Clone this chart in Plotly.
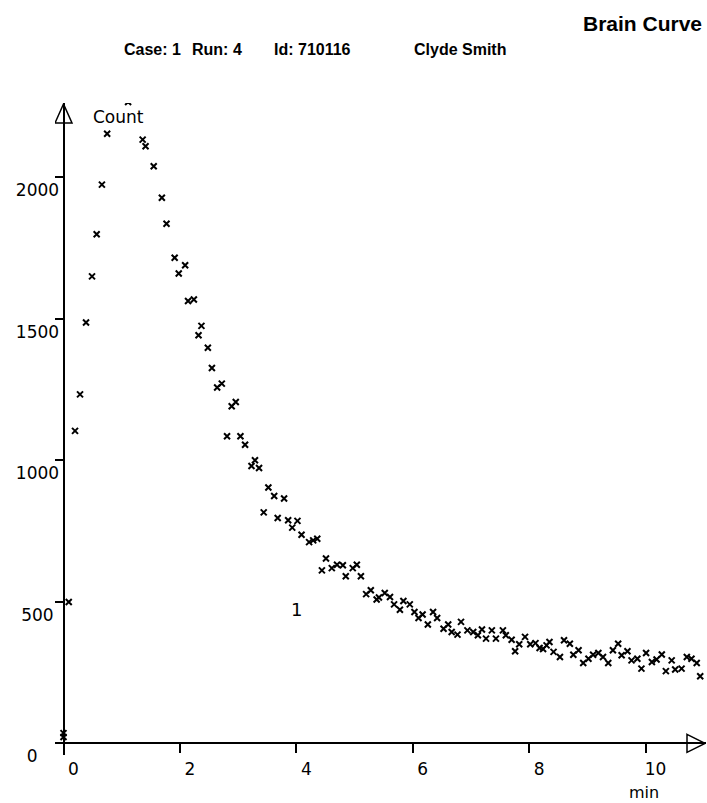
import plotly.graph_objects as go

# ---- data (time in min, counts) ----
time_min = [0.0, 0.0, 0.09, 0.198, 0.284, 0.387, 0.49, 0.57, 0.66, 0.75, 1.11,
            1.36, 1.41, 1.55, 1.69, 1.77, 1.91, 1.98, 2.09, 2.14, 2.24, 2.32, 2.37,
            2.48, 2.55, 2.64, 2.72, 2.81, 2.89, 2.96, 3.04, 3.12, 3.23, 3.29, 3.36,
            3.44, 3.52, 3.62, 3.68, 3.79, 3.86, 3.93, 4.02, 4.09, 4.22, 4.29, 4.36,
            4.44, 4.51, 4.61, 4.70, 4.80, 4.85, 4.97, 5.04, 5.11, 5.20, 5.28, 5.38,
            5.42, 5.52, 5.61, 5.68, 5.78, 5.84, 5.95, 6.03, 6.10, 6.17, 6.26, 6.35,
            6.42, 6.53, 6.61, 6.67, 6.77, 6.83, 6.94, 7.04, 7.12, 7.19, 7.26, 7.36,
            7.43, 7.55, 7.60, 7.70, 7.76, 7.83, 7.93, 8.02, 8.11, 8.18, 8.24, 8.30,
            8.35, 8.42, 8.53, 8.60, 8.70, 8.76, 8.85, 8.93, 9.02, 9.10, 9.19, 9.27,
            9.36, 9.44, 9.53, 9.59, 9.69, 9.76, 9.86, 9.93, 10.01, 10.11, 10.19,
            10.28, 10.35, 10.45, 10.51, 10.62, 10.71, 10.79, 10.88, 10.94]
counts = [22, 36, 499, 1104, 1233, 1487, 1650, 1799, 1974, 2154, 2266,
          2133, 2110, 2039, 1928, 1836, 1716, 1660, 1689, 1563, 1568, 1442, 1475,
          1398, 1326, 1257, 1271, 1085, 1191, 1206, 1085, 1055, 980, 1000, 973,
          816, 904, 874, 796, 865, 788, 762, 786, 737, 711, 717, 723,
          611, 653, 619, 631, 629, 590, 619, 631, 590, 527, 541, 508,
          515, 531, 517, 491, 472, 503, 491, 464, 443, 455, 420, 464,
          443, 405, 420, 393, 384, 429, 399, 393, 382, 402, 370, 399,
          370, 399, 382, 366, 325, 350, 376, 350, 354, 337, 333, 346,
          358, 323, 305, 364, 352, 313, 329, 284, 299, 313, 319, 305,
          284, 329, 352, 311, 325, 293, 299, 264, 319, 287, 296,
          314, 255, 293, 261, 264, 305, 299, 284, 237]

x_ticks = [0, 2, 4, 6, 8, 10]
y_ticks = [0, 500, 1000, 1500, 2000]
y_tick_labels = ["0\u00a0\u00a0\u00a0\u00a0", "500\u00a0", "1000", "1500", "2000"]
title_text = "Brain Curve"
header_parts = ["Case: 1", "Run: 4", "Id: 710116", "Clyde Smith"]
curve_label = "1"

# ---- layout geometry (pixels) ----
W, H = 707, 803
L, R, T, B = 55, 1, 103, 48
PW, PH = W - L - R, H - T - B
X0_PX, PX_PER_MIN = 63.5, 58.2
Y0_PX, PX_PER_COUNT = 743.3, 0.283

x_range = [(L - X0_PX) / PX_PER_MIN, (W - R - X0_PX) / PX_PER_MIN]
y_range = [(Y0_PX - (H - B)) / PX_PER_COUNT, (Y0_PX - T) / PX_PER_COUNT]


def px_x(px):
    return (px - L) / PW


def px_y(py):
    return (H - B - py) / PH


def dx(px):
    return (px - X0_PX) / PX_PER_MIN


def dy(py):
    return (Y0_PX - py) / PX_PER_COUNT


FONT = "DejaVu Sans"

fig = go.Figure()
fig.add_trace(go.Scatter(
    x=time_min, y=counts, mode="markers",
    marker=dict(symbol="x-thin", size=6, color="black",
                line=dict(width=2, color="black")),
    cliponaxis=True, showlegend=False, hoverinfo="x+y"))

axis_common = dict(showgrid=False, zeroline=False, showline=True, linecolor="black",
                   linewidth=2, ticks="outside", tickcolor="black", tickwidth=2,
                   tickfont=dict(family=FONT, size=17, color="black"), anchor="free")

fig.update_xaxes(range=x_range, tickvals=x_ticks, ticklen=9,
                 position=(H - B - Y0_PX) / PH, ticklabelshift=10,
                 ticklabelstandoff=1, **axis_common)
fig.update_yaxes(range=y_range, tickvals=y_ticks, ticktext=y_tick_labels, ticklen=8,
                 position=(X0_PX - L) / PW, ticklabelshift=13,
                 ticklabelstandoff=-8, **axis_common)

# hollow arrow heads at axis ends
shapes = [
    dict(type="path", xref="x", yref="y", line=dict(color="black", width=1.5),
         path=f"M {dx(X0_PX - 8.5)},{dy(123)} L {dx(X0_PX)},{dy(104)} L {dx(X0_PX + 8.5)},{dy(123)} Z"),
    dict(type="path", xref="x", yref="y", line=dict(color="black", width=1.5),
         path=f"M {dx(687)},{dy(Y0_PX - 9)} L {dx(705)},{dy(Y0_PX)} L {dx(687)},{dy(Y0_PX + 9)} Z"),
]

ann = []
ann.append(dict(text=f"<b>{title_text}</b>", xref="paper", yref="paper", x=px_x(704), y=px_y(23),
                xanchor="right", yanchor="middle", showarrow=False,
                font=dict(family="Liberation Sans", size=21, color="black")))
for txt, left in zip(header_parts, [122, 190, 272, 412]):
    ann.append(dict(text=f"<b>{txt}</b>", xref="paper", yref="paper", x=px_x(left), y=px_y(50),
                    xanchor="left", yanchor="middle", showarrow=False,
                    font=dict(family="Liberation Sans", size=16, color="black")))
ann.append(dict(text="Count", xref="paper", yref="paper", x=px_x(91), y=px_y(117),
                xanchor="left", yanchor="middle", showarrow=False,
                font=dict(family=FONT, size=17, color="black")))
ann.append(dict(text="min", xref="paper", yref="paper", x=px_x(644), y=px_y(793),
                xanchor="center", yanchor="middle", showarrow=False,
                font=dict(family=FONT, size=16, color="black")))
ann.append(dict(text=curve_label, xref="x", yref="y", x=dx(296.7), y=dy(609),
                xanchor="center", yanchor="middle", showarrow=False,
                font=dict(family=FONT, size=18, color="black")))

fig.update_layout(width=W, height=H, margin=dict(l=L, r=R, t=T, b=B, autoexpand=False),
                  paper_bgcolor="white", plot_bgcolor="white",
                  shapes=shapes, annotations=ann, showlegend=False)

fig.write_html("out.html")
